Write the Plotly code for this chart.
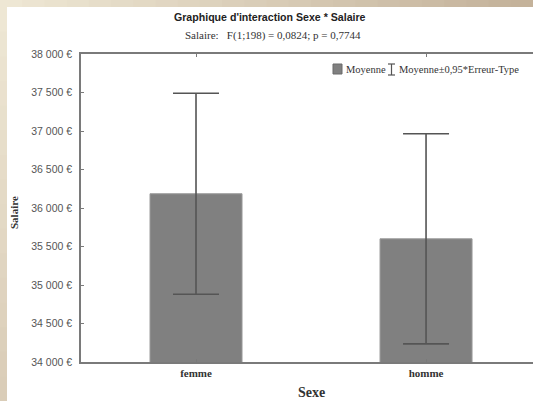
import plotly.graph_objects as go

categories = ["femme", "homme"]
means = [36185, 35600]
errors = [1305, 1365]
tick_vals = [34000, 34500, 35000, 35500, 36000, 36500, 37000, 37500, 38000]
tick_text = ["34 000 €", "34 500 €", "35 000 €", "35 500 €", "36 000 €",
             "36 500 €", "37 000 €", "37 500 €", "38 000 €"]

W, H = 533, 401
L, R, T, B = 81, 533, 54, 362

def px(p):
    return (p - L) / (R - L)

def py(p):
    return (B - p) / (B - T)

fig = go.Figure()
fig.add_trace(go.Bar(
    x=[0, 1], y=means, width=0.4,
    marker=dict(color="#808080", line=dict(color="#9a9a9a", width=1)),
    error_y=dict(type="data", array=errors, visible=True, color="#555555",
                 thickness=1.6, width=23),
    showlegend=False, hoverinfo="skip",
))

shapes = []
shapes.append(dict(type="rect", xref="paper", yref="paper", x0=px(7), x1=px(540),
                   y0=py(410), y1=py(7), fillcolor="white", line=dict(width=0), layer="below"))
n = 24
c0 = (238, 231, 212)
c1 = (196, 178, 154)
for i in range(n):
    t = i / (n - 1)
    col = tuple(int(c0[k] + (c1[k] - c0[k]) * t) for k in range(3))
    x0 = i * (W / n)
    shapes.append(dict(type="rect", xref="paper", yref="paper", x0=px(x0), x1=px(x0 + W / n + 1),
                       y0=py(7), y1=py(0), fillcolor="rgb(%d,%d,%d)" % col, line=dict(width=0), layer="below"))
m = 16
d0 = (238, 231, 212)
d1 = (218, 205, 184)
for i in range(m):
    t = i / (m - 1)
    col = tuple(int(d0[k] + (d1[k] - d0[k]) * t) for k in range(3))
    y0 = 7 + i * ((H - 7) / m)
    shapes.append(dict(type="rect", xref="paper", yref="paper", x0=px(0), x1=px(7),
                       y0=py(y0 + (H - 7) / m + 1), y1=py(y0), fillcolor="rgb(%d,%d,%d)" % col,
                       line=dict(width=0), layer="below"))
# legend symbols
shapes.append(dict(type="rect", xref="paper", yref="paper", x0=px(333), x1=px(342),
                   y0=py(74), y1=py(64), fillcolor="#808080", line=dict(color="#6a6a6a", width=1)))
shapes.append(dict(type="line", xref="paper", yref="paper", x0=px(391.5), x1=px(391.5),
                   y0=py(75), y1=py(64), line=dict(color="#555555", width=1.2)))
shapes.append(dict(type="line", xref="paper", yref="paper", x0=px(388), x1=px(395),
                   y0=py(64), y1=py(64), line=dict(color="#555555", width=1.2)))
shapes.append(dict(type="line", xref="paper", yref="paper", x0=px(388), x1=px(395),
                   y0=py(75), y1=py(75), line=dict(color="#555555", width=1.2)))

serif = "Liberation Serif, Times New Roman, serif"
sans = "Liberation Sans, Arial, sans-serif"

annotations = [
    dict(text="<b>Graphique d'interaction Sexe * Salaire</b>", x=px(270), y=py(17),
         xref="paper", yref="paper", showarrow=False, xanchor="center", yanchor="middle",
         font=dict(family=sans, size=10.6, color="#222")),
    dict(text="Salaire:   F(1;198) = 0,0824; p = 0,7744", x=px(273), y=py(36),
         xref="paper", yref="paper", showarrow=False, xanchor="center", yanchor="middle",
         font=dict(family=serif, size=11, color="#333")),
    dict(text="Moyenne", x=px(344), y=py(69), xref="paper", yref="paper", showarrow=False,
         xanchor="left", yanchor="middle", font=dict(family=serif, size=10.5, color="#333")),
    dict(text="Moyenne±0,95*Erreur-Type", x=px(397), y=py(69), xref="paper", yref="paper",
         showarrow=False, xanchor="left", yanchor="middle", font=dict(family=serif, size=10.5, color="#333")),
    dict(text="<b>Salaire</b>", x=px(14), y=py(213), xref="paper", yref="paper", showarrow=False,
         textangle=-90, xanchor="center", yanchor="middle", font=dict(family=serif, size=11, color="#333")),
    dict(text="<b>Sexe</b>", x=px(311), y=py(392), xref="paper", yref="paper", showarrow=False,
         xanchor="center", yanchor="middle", font=dict(family=serif, size=14, color="#333")),
]

fig.update_layout(
    width=W, height=H,
    margin=dict(l=L, r=W - R, t=T, b=H - B, pad=0),
    paper_bgcolor="#ece4d0",
    plot_bgcolor="white",
    shapes=shapes,
    annotations=annotations,
    hovermode=False,
)
fig.update_xaxes(
    range=[-0.5, 1.465], tickvals=[0, 1], ticktext=["<b>femme</b>", "<b>homme</b>"],
    tickfont=dict(family=serif, size=11, color="#333"),
    showgrid=False, zeroline=False, showline=True, linecolor="#7a7a7a", linewidth=1.5,
    mirror="ticks", ticks="inside", ticklen=3, tickcolor="#7a7a7a",
)
fig.update_yaxes(
    range=[34000, 38000], tickvals=tick_vals, ticktext=tick_text,
    tickfont=dict(family=sans, size=10.5, color="#555"),
    showgrid=False, zeroline=False, showline=True, linecolor="#7a7a7a", linewidth=1.5,
    ticks="inside", ticklen=3, tickcolor="#7a7a7a", ticklabelstandoff=5,
)

fig.write_html("out.html", config={"displayModeBar": False},
               post_script="document.body.style.margin='0px'; document.body.style.overflow='hidden';")
